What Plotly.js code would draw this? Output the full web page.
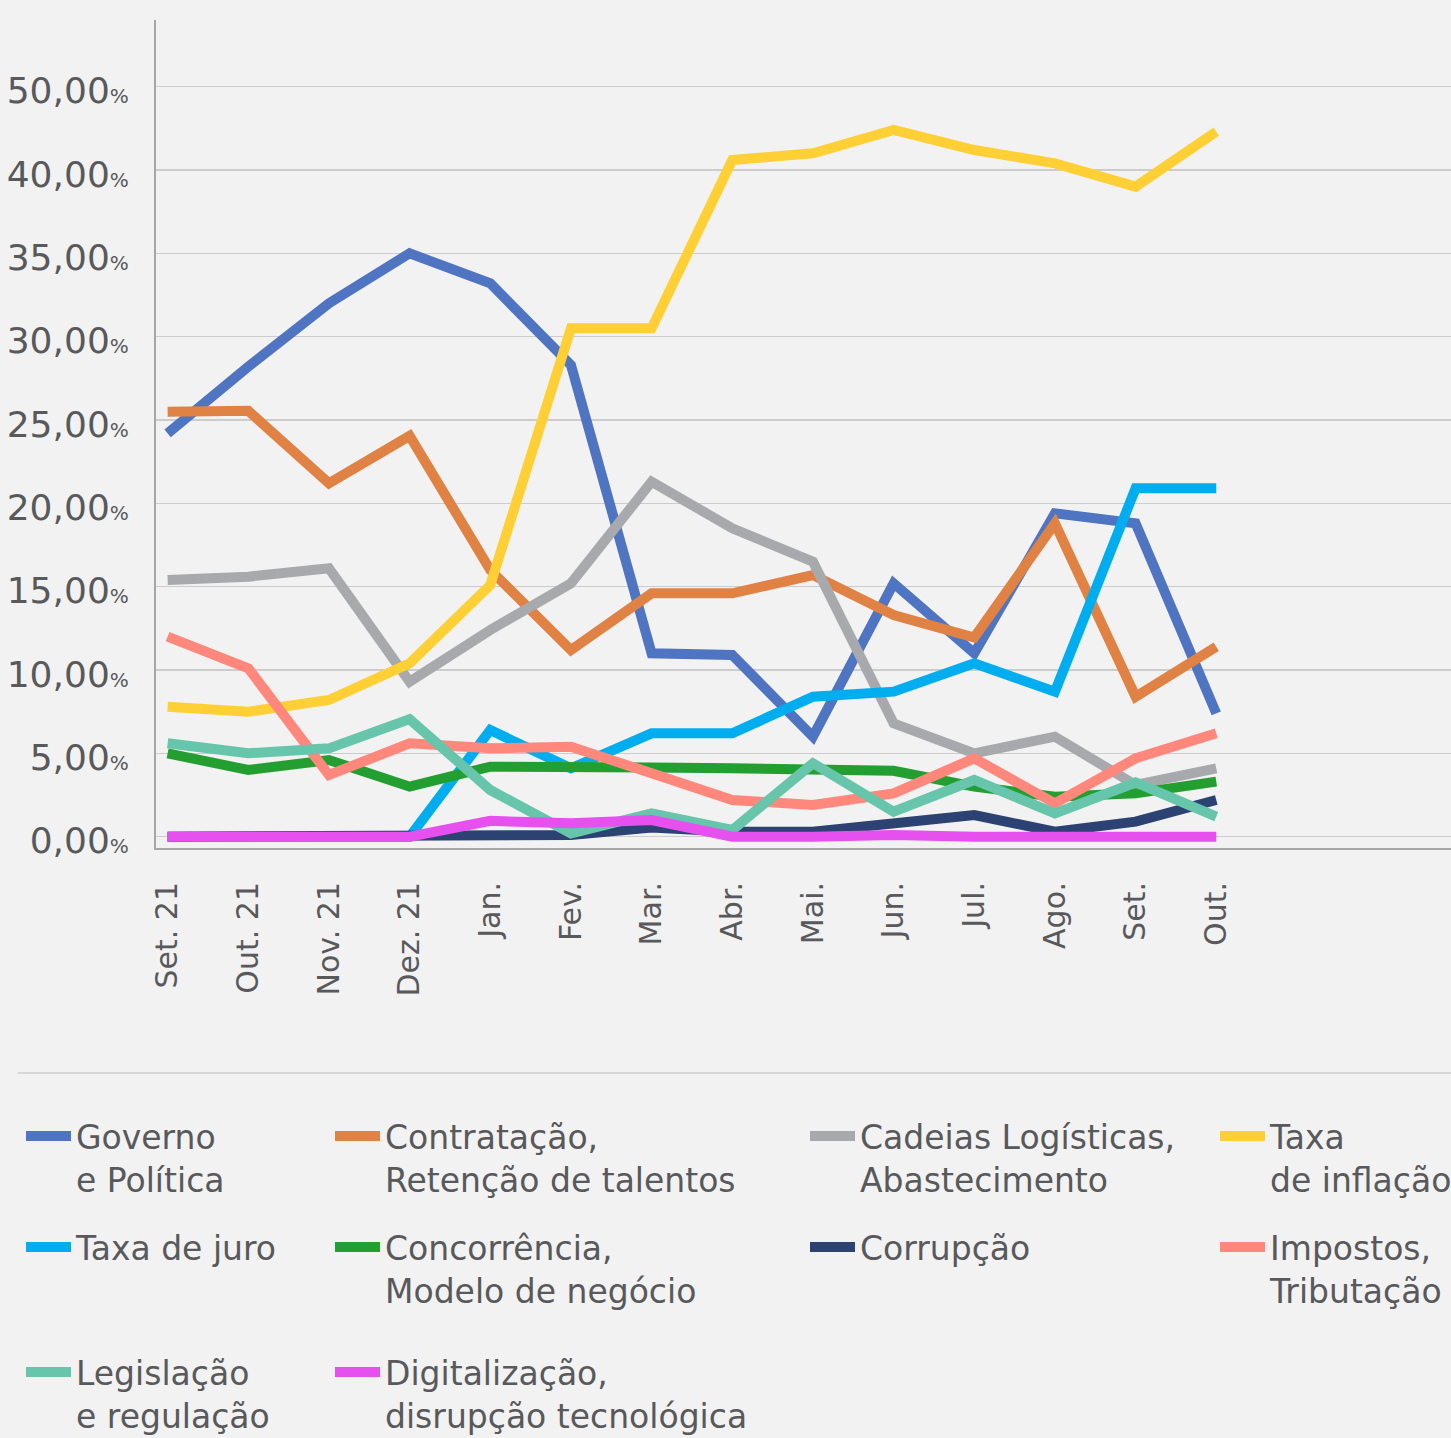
<!DOCTYPE html>
<html>
<head>
<meta charset="utf-8">
<script src="https://cdn.plot.ly/plotly-3.0.1.min.js"></script>
<style>
html,body{margin:0;padding:0;background:#f2f2f2;}
#chart{width:1451px;height:1438px;}
</style>
</head>
<body>
<div id="chart"></div>
<script>
const months = ['Set. 21','Out. 21','Nov. 21','Dez. 21','Jan.','Fev.','Mar.','Abr.','Mai.','Jun.','Jul.','Ago.','Set.','Out.'];

const governo       = [24.2, 28.2, 32.0, 35.0, 33.2, 28.3, 11.0, 10.9, 6.0, 15.2, 11.0, 19.4, 18.8, 7.4];
const contratacao   = [25.5, 25.55, 21.2, 24.05, 16.0, 11.2, 14.6, 14.6, 15.7, 13.3, 11.95, 18.8, 8.4, 11.4];
const cadeias       = [15.4, 15.6, 16.1, 9.3, 12.4, 15.2, 21.3, 18.5, 16.5, 6.8, 5.0, 6.0, 3.1, 4.1];
const inflacao      = [7.8, 7.5, 8.2, 10.4, 15.1, 30.5, 30.5, 40.6, 41.0, 42.4, 41.2, 40.4, 39.0, 42.3];
const juro          = [0, 0, 0, 0, 6.4, 4.1, 6.2, 6.2, 8.4, 8.7, 10.4, 8.7, 20.9, 20.9];
const concorrencia  = [5.0, 4.0, 4.6, 3.0, 4.2, 4.1, 4.15, 4.1, 4.0, 3.95, 3.0, 2.4, 2.6, 3.3];
const corrupcao     = [0, 0, 0, 0, 0, 0.1, 0.55, 0.3, 0.3, 0.8, 1.3, 0.3, 0.9, 2.2];
const impostos      = [12.0, 10.1, 3.7, 5.6, 5.3, 5.4, 3.8, 2.2, 1.9, 2.6, 4.7, 2.0, 4.7, 6.2];
const legislacao    = [5.6, 5.0, 5.3, 7.05, 2.8, 0.2, 1.4, 0.4, 4.4, 1.5, 3.4, 1.4, 3.25, 1.2];
const digitalizacao = [0, 0, 0, 0, 0.95, 0.8, 1.0, 0, 0, 0.1, 0, 0, 0.05, 0];

const seriesNames = [
  'Governo<br>e Política',
  'Contratação,<br>Retenção de talentos',
  'Cadeias Logísticas,<br>Abastecimento',
  'Taxa<br>de inflação',
  'Taxa de juro',
  'Concorrência,<br>Modelo de negócio',
  'Corrupção',
  'Impostos,<br>Tributação',
  'Legislação<br>e regulação',
  'Digitalização,<br>disrupção tecnológica'
];
const seriesValues = [governo, contratacao, cadeias, inflacao, juro, concorrencia, corrupcao, impostos, legislacao, digitalizacao];
const seriesColors = ['#4f74c2','#e08244','#a8a9ad','#ffd035','#00aeef','#239e30','#2c4273','#ff877c','#67c5ab','#e650ee'];

const yTickVals = [0,5,10,15,20,25,30,35,40,45];
const yTickNums = ['0,00','5,00','10,00','15,00','20,00','25,00','30,00','35,00','40,00','50,00'];

// legend layout: column & row for each series
const legendCol = [0,1,2,3,0,1,2,3,0,1];
const legendRow = [0,0,0,0,1,1,1,1,2,2];
const colTextLeft = [76, 385, 860, 1270];
const rowTop = [1108, 1219, 1344];

const W = 1451, H = 1438;
const mL = 156, mR = 0, mT = 20, mB = H - 848;
const pw = W - mL - mR, ph = H - mT - mB;

const FONT = '"DejaVu Sans", "Open Sans", sans-serif';
const TXT = '#58595b';
const ITEMW = 45;

const traces = seriesNames.map((n, i) => ({
  type: 'scatter',
  mode: 'lines',
  x: months,
  y: seriesValues[i],
  name: n,
  line: {color: seriesColors[i], width: 10},
  legend: i === 0 ? 'legend' : 'legend' + (i + 1),
  hoverinfo: 'x+y+name'
}));

const layout = {
  width: W, height: H,
  paper_bgcolor: '#f2f2f2',
  plot_bgcolor: '#f2f2f2',
  margin: {l: mL, r: mR, t: mT, b: mB, autoexpand: false},
  font: {family: FONT, color: TXT},
  showlegend: true,
  xaxis: {
    type: 'category',
    range: [-0.144, 15.91],
    tickangle: -90,
    tickfont: {size: 30, color: TXT, family: FONT},
    showgrid: false,
    showline: true, linecolor: '#a6a6a6', linewidth: 2,
    ticks: '', ticklabelstandoff: 20,
    zeroline: false, fixedrange: true
  },
  yaxis: {
    range: [-0.68, 49.0],
    tickvals: yTickVals,
    ticktext: yTickNums.map(t => t + '<span style="font-size:20px">%</span>'),
    tickfont: {size: 36, color: TXT, family: FONT},
    showgrid: true, gridcolor: '#cccccc', gridwidth: 1.5,
    showline: true, linecolor: '#a6a6a6', linewidth: 2,
    ticks: '', ticklabelstandoff: 18, ticklabelshift: 4,
    zeroline: false, fixedrange: true
  },
  shapes: [{
    type: 'line', xref: 'paper', yref: 'paper',
    x0: (18 - mL) / pw, x1: (W - mL) / pw,
    y0: (H - mB - 1073) / ph, y1: (H - mB - 1073) / ph,
    line: {color: '#cfcfcf', width: 1.5}
  }]
};

seriesNames.forEach((n, i) => {
  const key = i === 0 ? 'legend' : 'legend' + (i + 1);
  layout[key] = {
    x: (colTextLeft[legendCol[i]] - (ITEMW + 10) - mL) / pw,
    y: (H - mB - rowTop[legendRow[i]]) / ph,
    xanchor: 'left', yanchor: 'top',
    orientation: 'v',
    itemwidth: ITEMW,
    bgcolor: 'rgba(0,0,0,0)',
    borderwidth: 0,
    valign: 'top',
    font: {size: 33, color: TXT, family: FONT}
  };
});

Plotly.newPlot('chart', traces, layout, {displayModeBar: false, staticPlot: true});
</script>
</body>
</html>
